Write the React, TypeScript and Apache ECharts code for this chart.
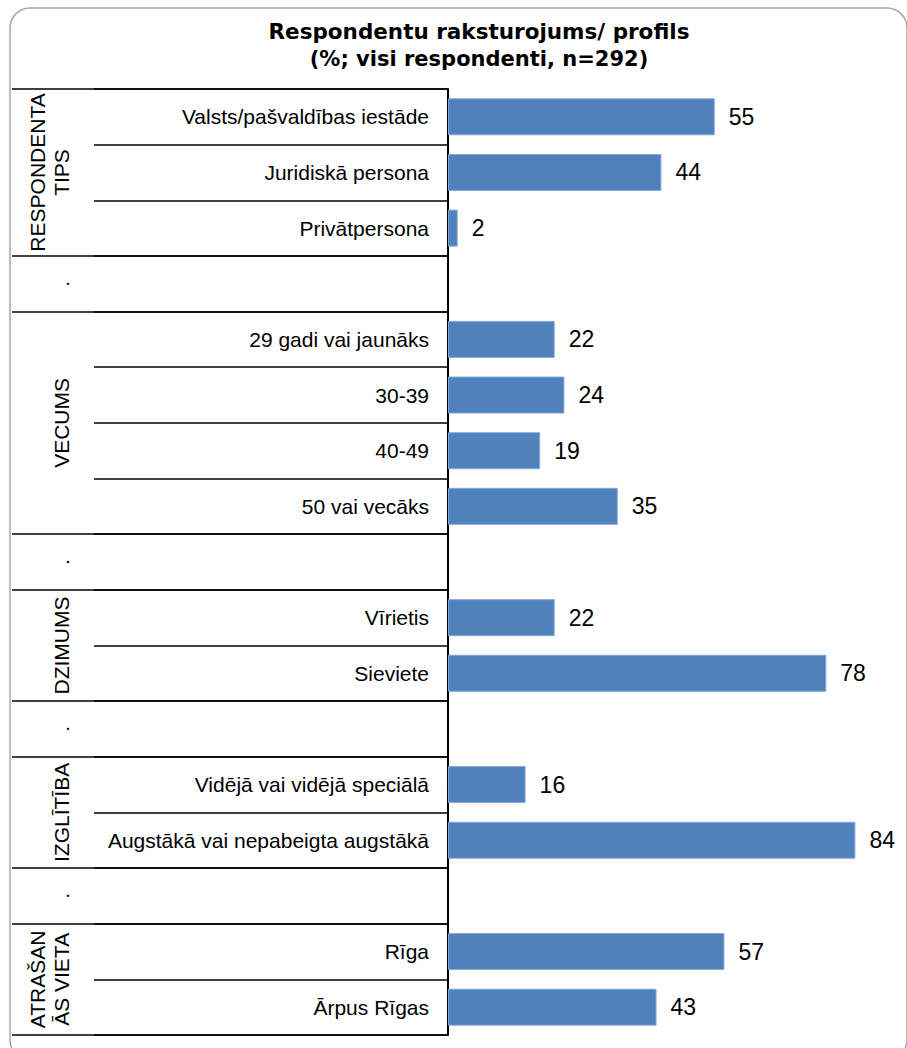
import React, { useEffect, useRef } from 'react';
import * as echarts from 'echarts';

// ---- data ----
const categories: string[] = [
  'Valsts/pašvaldības iestāde',
  'Juridiskā persona',
  'Privātpersona',
  '',
  '29 gadi vai jaunāks',
  '30-39',
  '40-49',
  '50 vai vecāks',
  '',
  'Vīrietis',
  'Sieviete',
  '',
  'Vidējā vai vidējā speciālā',
  'Augstākā vai nepabeigta augstākā',
  '',
  'Rīga',
  'Ārpus Rīgas',
];
const values: (number | null)[] = [55, 44, 2, null, 22, 24, 19, 35, null, 22, 78, null, 16, 84, null, 57, 43];

const groupLabels: string[] = ['RESPONDENTA\nTIPS', '.', 'VECUMS', '.', 'DZIMUMS', '.', 'IZGLĪTĪBA', '.', 'ATRAŠAN\nĀS VIETA'];
const groupRowSpans: number[] = [3, 1, 4, 1, 2, 1, 2, 1, 2];

const titleLine1 = 'Respondentu raksturojums/ profils';
const titleLine2 = '(%; visi respondenti, n=292)';

// derived: group start rows and half-row label axis
const groupStarts: number[] = [];
const halfRowLabels: string[] = new Array(categories.length * 2 + 1).fill('');
{
  let s = 0;
  groupRowSpans.forEach((span, i) => {
    groupStarts.push(s);
    const lbl = groupLabels[i];
    halfRowLabels[2 * s + span] = lbl.indexOf('\n') >= 0 ? lbl : '\n' + lbl;
    s += span;
  });
}

const LABEL_FONT = '"Liberation Sans", Arial, sans-serif';

export default function App() {
  const ref = useRef<HTMLDivElement>(null);
  useEffect(() => {
    if (!ref.current) return;
    const chart = echarts.init(ref.current, undefined, { renderer: 'svg' });
    const option: any = {
      animation: false,
      backgroundColor: '#ffffff',
      graphic: [
        {
          type: 'rect',
          shape: { x: 10, y: 8, width: 897, height: 1052, r: 20 },
          style: { fill: 'none', stroke: '#a6a6a6', lineWidth: 1.5 },
          silent: true,
        },
        {
          type: 'text',
          x: 479,
          y: 31,
          style: {
            text: titleLine1,
            font: 'bold 21.5px "DejaVu Sans", sans-serif',
            fill: '#000',
            align: 'center',
            verticalAlign: 'middle',
            textAlign: 'center',
            textVerticalAlign: 'middle',
          },
        },
        {
          type: 'text',
          x: 479,
          y: 59,
          style: {
            text: titleLine2,
            font: 'bold 21px "DejaVu Sans", sans-serif',
            fill: '#000',
            align: 'center',
            verticalAlign: 'middle',
            textAlign: 'center',
            textVerticalAlign: 'middle',
          },
        },
      ],
      grid: { left: 448, top: 89, width: 436.5, height: 946, containLabel: false },
      xAxis: {
        type: 'value',
        min: 0,
        max: 90,
        show: false,
      },
      yAxis: [
        {
          type: 'category',
          data: categories,
          inverse: true,
          position: 'left',
          axisLine: { show: true, lineStyle: { color: '#000', width: 2 } },
          axisTick: { show: true, interval: 0, length: 448 - 94, lineStyle: { color: '#000', width: 1.5 } },
          axisLabel: {
            interval: 0,
            margin: 19,
            color: '#000',
            fontSize: 21,
            fontFamily: LABEL_FONT,
          },
          splitLine: { show: false },
        },
        {
          type: 'category',
          data: categories,
          inverse: true,
          position: 'left',
          axisLine: { show: false },
          axisTick: {
            show: true,
            interval: (index: number) => groupStarts.indexOf(index) >= 0,
            length: 448 - 12,
            lineStyle: { color: '#000', width: 1.5 },
          },
          axisLabel: { show: false },
          splitLine: { show: false },
        },
        {
          type: 'category',
          data: halfRowLabels,
          inverse: true,
          boundaryGap: false,
          position: 'left',
          axisLine: { show: false },
          axisTick: { show: false },
          axisLabel: {
            interval: 0,
            rotate: 90,
            margin: 398.6,
            align: 'center',
            verticalAlign: 'middle',
            lineHeight: 23.3,
            color: '#000',
            fontSize: 21,
            fontFamily: LABEL_FONT,
          },
          splitLine: { show: false },
        },
      ],
      series: [
        {
          type: 'bar',
          yAxisIndex: 0,
          data: values,
          barWidth: 37,
          itemStyle: { color: '#4f81bd', borderColor: '#86a8d6', borderWidth: 1 },
          label: {
            show: true,
            position: 'right',
            distance: 14,
            color: '#000',
            fontSize: 23,
            fontFamily: LABEL_FONT,
          },
        },
      ],
    };
    chart.setOption(option);
    return () => chart.dispose();
  }, []);
  return (
    <div
      ref={ref}
      style={{ position: 'absolute', left: 0, top: 0, width: 907, height: 1048, background: '#fff' }}
    />
  );
}
